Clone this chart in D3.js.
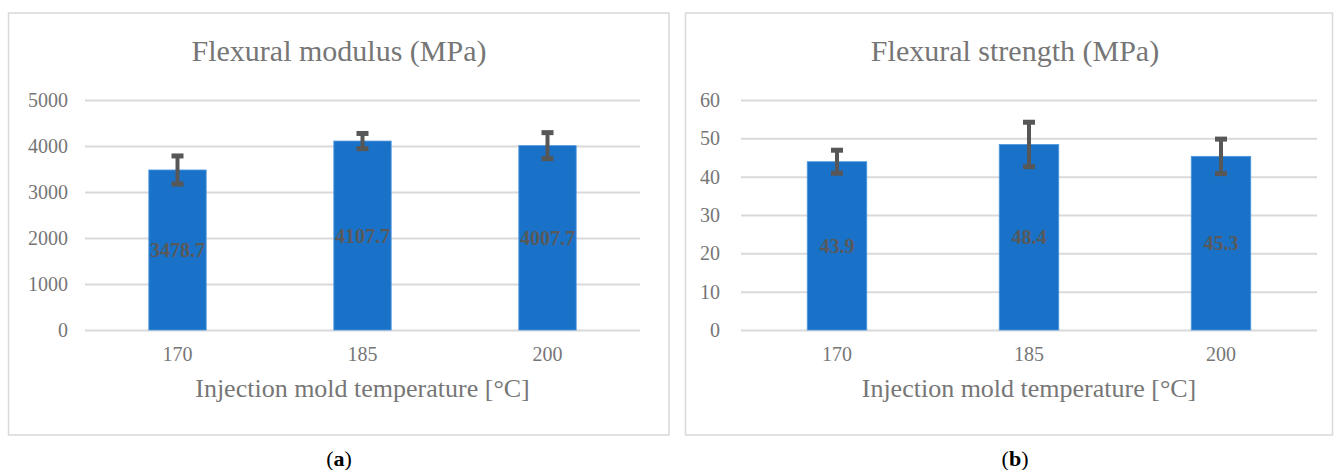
<!DOCTYPE html>
<html>
<head>
<meta charset="utf-8">
<script src="https://cdn.jsdelivr.net/npm/d3@7"></script>
<style>
  html, body { margin: 0; padding: 0; background: #fff; }
  svg { display: block; }
</style>
</head>
<body>
<svg id="chart" width="1334" height="470"></svg>
<script>
// ---- data ----
const categories = ["170", "185", "200"];
const modulusValues = [3478.7, 4107.7, 4007.7];
const modulusErrors = [305, 165, 283];
const modulusTicks = [0, 1000, 2000, 3000, 4000, 5000];
const strengthValues = [43.9, 48.4, 45.3];
const strengthErrors = [3.0, 5.8, 4.5];
const strengthTicks = [0, 10, 20, 30, 40, 50, 60];
const titles = ["Flexural modulus (MPa)", "Flexural strength (MPa)"];
const xAxisTitle = "Injection mold temperature [°C]";
const panelLabels = ["a", "b"];

const svg = d3.select("#chart");
const FONT = "'Liberation Serif', 'Times New Roman', serif";
const TEXT = "#767676";
const BAR = "#1a72c8";

function drawPanel(opt) {
  const g = svg.append("g");
  // frame
  g.append("rect")
    .attr("x", opt.box[0]).attr("y", opt.box[1])
    .attr("width", opt.box[2] - opt.box[0]).attr("height", opt.box[3] - opt.box[1])
    .attr("fill", "#fff").attr("stroke", "#d9d9d9").attr("stroke-width", 1.5);

  const x = d3.scaleBand().domain(categories).range([opt.plot[0], opt.plot[1]])
    .paddingInner(0.69).paddingOuter(0.345);
  const y = d3.scaleLinear().domain([0, d3.max(opt.ticks)]).range([330, 100]);

  // gridlines
  const yAxis = d3.axisLeft(y).tickValues(opt.ticks).tickFormat(d3.format("d"))
    .tickSize(-(opt.plot[1] - opt.plot[0])).tickPadding(opt.plot[0] - opt.labelX);
  const ya = g.append("g").attr("transform", `translate(${opt.plot[0]},0)`).call(yAxis);
  ya.select(".domain").remove();
  ya.selectAll(".tick line").attr("stroke", "#d9d9d9").attr("stroke-width", 2);
  ya.selectAll(".tick text").attr("fill", TEXT).style("font-family", FONT).style("font-size", "20px");

  // x axis labels
  const xAxis = d3.axisBottom(x).tickSize(0).tickPadding(16);
  const xa = g.append("g").attr("transform", "translate(0,331)").call(xAxis);
  xa.select(".domain").remove();
  xa.selectAll(".tick text").attr("fill", TEXT).style("font-family", FONT).style("font-size", "20px");

  // bars
  g.selectAll("rect.bar").data(opt.values).join("rect").attr("class", "bar")
    .attr("x", (d, i) => x(categories[i]))
    .attr("width", x.bandwidth())
    .attr("y", d => y(d))
    .attr("height", d => y(0) - y(d))
    .attr("fill", BAR).attr("stroke", "#4f97dd").attr("stroke-width", 0.8);

  // error bars
  const eb = g.selectAll("g.err").data(opt.values).join("g").attr("class", "err");
  eb.append("line")
    .attr("x1", (d, i) => x(categories[i]) + x.bandwidth() / 2)
    .attr("x2", (d, i) => x(categories[i]) + x.bandwidth() / 2)
    .attr("y1", (d, i) => y(d + opt.errors[i]))
    .attr("y2", (d, i) => y(d - opt.errors[i]))
    .attr("stroke", "#575757").attr("stroke-width", 4);
  [1, -1].forEach(s => {
    eb.append("line")
      .attr("x1", (d, i) => x(categories[i]) + x.bandwidth() / 2 - 6)
      .attr("x2", (d, i) => x(categories[i]) + x.bandwidth() / 2 + 6)
      .attr("y1", (d, i) => y(d + s * opt.errors[i]))
      .attr("y2", (d, i) => y(d + s * opt.errors[i]))
      .attr("stroke", "#575757").attr("stroke-width", 5);
  });

  // data labels
  g.selectAll("text.dl").data(opt.values).join("text").attr("class", "dl")
    .attr("x", (d, i) => x(categories[i]) + x.bandwidth() / 2)
    .attr("y", d => (y(d) + y(0)) / 2)
    .attr("dy", "0.35em")
    .attr("text-anchor", "middle")
    .attr("fill", "#595959").style("font-family", FONT).style("font-size", "20px")
    .style("font-weight", "bold")
    .text(d => d.toFixed(1));

  // titles
  const cx = (opt.plot[0] + opt.plot[1]) / 2;
  g.append("text").attr("x", opt.titleX).attr("y", 61).attr("text-anchor", "middle")
    .attr("fill", TEXT).style("font-family", FONT).style("font-size", "30px")
    .text(opt.title);
  g.append("text").attr("x", cx).attr("y", 397).attr("text-anchor", "middle")
    .attr("fill", TEXT).style("font-family", FONT).style("font-size", "26px")
    .text(xAxisTitle);

  // panel label
  const pl = g.append("text").attr("x", opt.titleX).attr("y", 466).attr("text-anchor", "middle")
    .attr("fill", "#000").style("font-family", FONT).style("font-size", "22px");
  pl.append("tspan").text("(");
  pl.append("tspan").style("font-weight", "bold").text(opt.label);
  pl.append("tspan").text(")");
}

drawPanel({
  box: [8.5, 13, 669, 435], plot: [85, 640], labelX: 68,
  values: modulusValues, errors: modulusErrors, ticks: modulusTicks,
  title: titles[0], titleX: 339, label: panelLabels[0]
});
drawPanel({
  box: [685.5, 13, 1332.5, 435], plot: [741, 1317], labelX: 720,
  values: strengthValues, errors: strengthErrors, ticks: strengthTicks,
  title: titles[1], titleX: 1015, label: panelLabels[1]
});
</script>
</body>
</html>
